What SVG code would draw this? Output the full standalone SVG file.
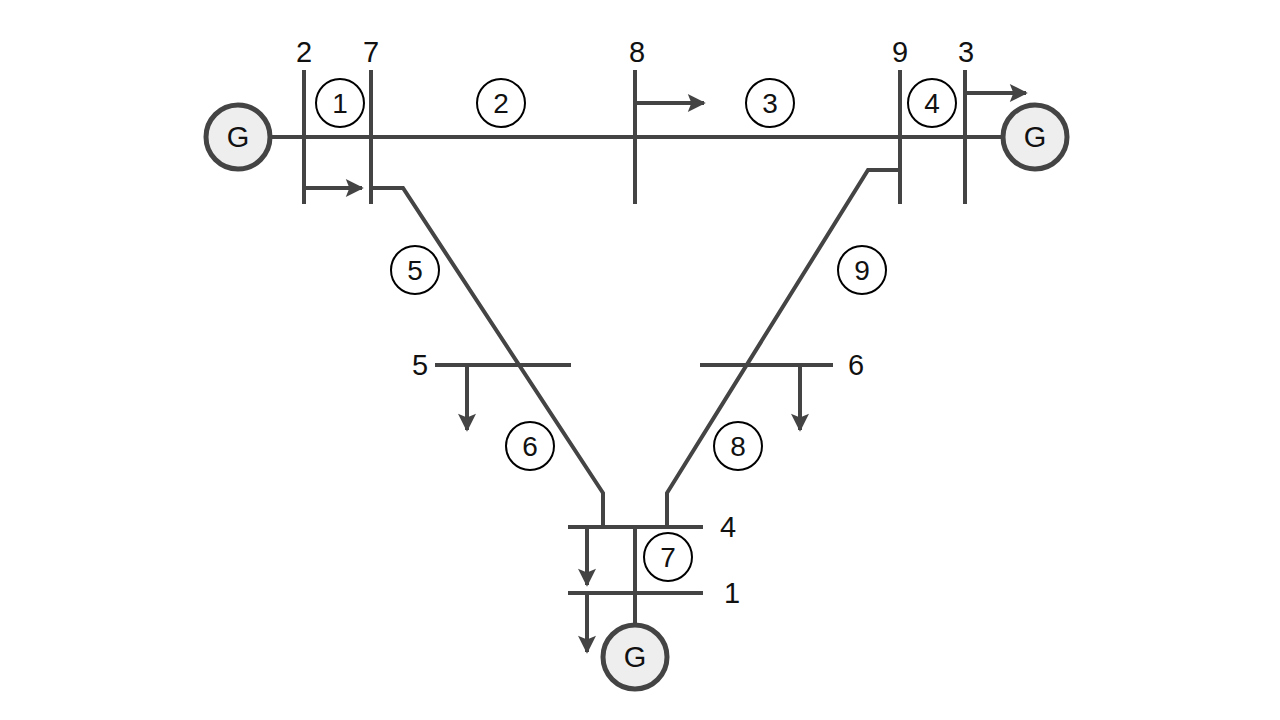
<svg xmlns="http://www.w3.org/2000/svg" width="1280" height="720" viewBox="0 0 1280 720">
<defs>
<marker id="ah" viewBox="0 0 10 10" refX="9" refY="5" markerWidth="5" markerHeight="4.5" orient="auto" markerUnits="strokeWidth"><path d="M0,0 L10,5 L0,10 L2,5 Z" fill="#444"/></marker>
<style>
.ln{stroke:#444;stroke-width:4;fill:none}
.ar{stroke:#444;stroke-width:4;fill:none;marker-end:url(#ah)}
.gen{fill:#eee;stroke:#444;stroke-width:5}
.lc{fill:#fff;stroke:#000;stroke-width:2}
text{font-family:"Liberation Sans",Arial,sans-serif;fill:#111;text-anchor:middle}
.bl{font-size:29px}
.cl{font-size:28px}
.gl{font-size:29px}
</style>
</defs>
<rect width="1280" height="720" fill="#fff"/>
<g id="connectors">
<line class="ln" x1="270" y1="137" x2="1003" y2="137"/>
<polyline class="ln" points="371,188 403,188 603,493 603,527"/>
<polyline class="ln" points="900,170 868,170 667,493 667,527"/>
<line class="ln" x1="635" y1="527" x2="635" y2="625"/>
<path class="ar" d="M304,188 H362"/>
<path class="ar" d="M635,103 H704"/>
<path class="ar" d="M965,93 H1026"/>
<path class="ar" d="M467,365 V430"/>
<path class="ar" d="M800,365 V430"/>
<path class="ar" d="M587,527 V585"/>
<path class="ar" d="M587,593 V652"/>
</g>
<g id="bus2"><line class="ln" x1="304" y1="70" x2="304" y2="204"/><text class="bl" x="304" y="62">2</text></g>
<g id="bus7"><line class="ln" x1="371" y1="70" x2="371" y2="204"/><text class="bl" x="371" y="62">7</text></g>
<g id="bus8"><line class="ln" x1="635" y1="70" x2="635" y2="204"/><text class="bl" x="637" y="62">8</text></g>
<g id="bus9"><line class="ln" x1="900" y1="70" x2="900" y2="204"/><text class="bl" x="900" y="62">9</text></g>
<g id="bus3"><line class="ln" x1="965" y1="70" x2="965" y2="204"/><text class="bl" x="966" y="62">3</text></g>
<g id="bus5"><line class="ln" x1="435" y1="365" x2="571" y2="365"/><text class="bl" x="420" y="375">5</text></g>
<g id="bus6"><line class="ln" x1="700" y1="365" x2="833" y2="365"/><text class="bl" x="856" y="375">6</text></g>
<g id="bus4"><line class="ln" x1="568" y1="527" x2="703" y2="527"/><text class="bl" x="728" y="537">4</text></g>
<g id="bus1"><line class="ln" x1="568" y1="593" x2="703" y2="593"/><text class="bl" x="732" y="603">1</text></g>
<g id="gen1"><circle class="gen" cx="238" cy="137" r="32"/><text class="gl" x="238" y="147">G</text></g>
<g id="gen2"><circle class="gen" cx="1035" cy="137" r="32"/><text class="gl" x="1035" y="147">G</text></g>
<g id="gen3"><circle class="gen" cx="635" cy="657" r="32"/><text class="gl" x="635" y="667">G</text></g>
<g id="line1"><circle class="lc" cx="340" cy="103" r="24"/><text class="cl" x="340" y="113">1</text></g>
<g id="line2"><circle class="lc" cx="501" cy="103" r="24"/><text class="cl" x="501" y="113">2</text></g>
<g id="line3"><circle class="lc" cx="770" cy="103" r="24"/><text class="cl" x="770" y="113">3</text></g>
<g id="line4"><circle class="lc" cx="932" cy="103" r="24"/><text class="cl" x="932" y="113">4</text></g>
<g id="line5"><circle class="lc" cx="415" cy="270" r="24"/><text class="cl" x="415" y="280">5</text></g>
<g id="line9"><circle class="lc" cx="862" cy="270" r="24"/><text class="cl" x="862" y="280">9</text></g>
<g id="line6"><circle class="lc" cx="530" cy="446" r="24"/><text class="cl" x="530" y="456">6</text></g>
<g id="line8"><circle class="lc" cx="738" cy="446" r="24"/><text class="cl" x="738" y="456">8</text></g>
<g id="line7"><circle class="lc" cx="668" cy="557" r="24"/><text class="cl" x="668" y="567">7</text></g>
</svg>
